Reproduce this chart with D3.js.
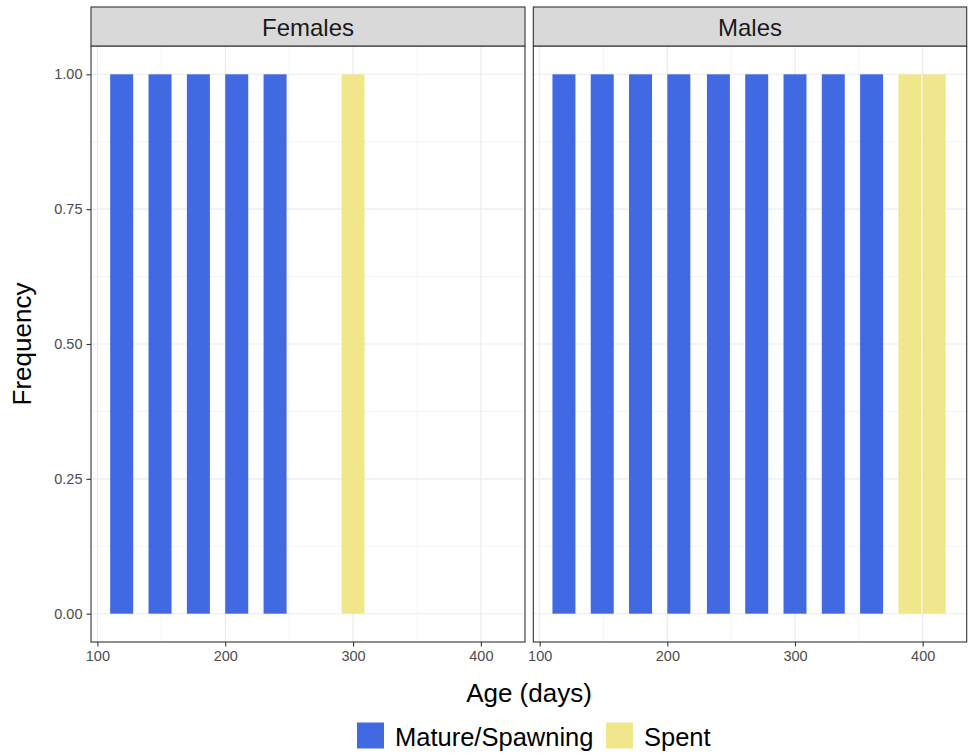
<!DOCTYPE html>
<html>
<head>
<meta charset="utf-8">
<script src="https://cdn.jsdelivr.net/npm/d3@7"></script>
<style>
  body { margin: 0; background: #fff; }
  svg { font-family: "Liberation Sans", Arial, sans-serif; }
</style>
</head>
<body>
<svg id="chart" width="969" height="755"></svg>
<script>
// ages (days) with one observation each, fill = stage
const femaleAges = [119, 149, 179, 209, 239, 300];
const femaleFreq = [1, 1, 1, 1, 1, 1];
const femaleStage = ['Mature/Spawning', 'Mature/Spawning', 'Mature/Spawning', 'Mature/Spawning', 'Mature/Spawning', 'Spent'];
const maleAges = [119, 149, 179, 209, 240, 270, 300, 330, 360, 390, 409];
const maleFreq = [1, 1, 1, 1, 1, 1, 1, 1, 1, 1, 1];
const maleStage = ['Mature/Spawning', 'Mature/Spawning', 'Mature/Spawning', 'Mature/Spawning', 'Mature/Spawning',
  'Mature/Spawning', 'Mature/Spawning', 'Mature/Spawning', 'Mature/Spawning', 'Spent', 'Spent'];
const panelNames = ['Females', 'Males'];
const stages = ['Mature/Spawning', 'Spent'];
const xTicks = [100, 200, 300, 400];
const xMinor = [150, 250, 350];
const yTicks = [0, 0.25, 0.5, 0.75, 1];
const yMinor = [0.125, 0.375, 0.625, 0.875];

const svg = d3.select('#chart');
const color = d3.scaleOrdinal().domain(stages).range(['#4169E1', '#F0E68C']);
const barWidth = 18;
const panelTop = 46, panelBottom = 642;
const panelX = [[91, 525], [533.3, 966.7]];

const y = d3.scaleLinear().domain([-0.0525, 1.0525]).range([panelBottom, panelTop]);

const panels = [
  femaleAges.map((a, i) => ({age: a, freq: femaleFreq[i], stage: femaleStage[i]})),
  maleAges.map((a, i) => ({age: a, freq: maleFreq[i], stage: maleStage[i]}))
];

panels.forEach((data, p) => {
  const x = d3.scaleLinear().domain([95, 434.5]).range(panelX[p]);
  const g = svg.append('g');
  const [x0, x1] = panelX[p];

  // grid
  g.selectAll('line.xminor').data(xMinor).enter().append('line')
    .attr('x1', d => x(d)).attr('x2', d => x(d)).attr('y1', panelTop).attr('y2', panelBottom)
    .attr('stroke', '#ebebeb').attr('stroke-width', 0.55);
  g.selectAll('line.yminor').data(yMinor).enter().append('line')
    .attr('x1', x0).attr('x2', x1).attr('y1', d => y(d)).attr('y2', d => y(d))
    .attr('stroke', '#ebebeb').attr('stroke-width', 0.55);
  g.selectAll('line.xmajor').data(xTicks).enter().append('line')
    .attr('x1', d => x(d)).attr('x2', d => x(d)).attr('y1', panelTop).attr('y2', panelBottom)
    .attr('stroke', '#ebebeb').attr('stroke-width', 1.1);
  g.selectAll('line.ymajor').data(yTicks).enter().append('line')
    .attr('x1', x0).attr('x2', x1).attr('y1', d => y(d)).attr('y2', d => y(d))
    .attr('stroke', '#ebebeb').attr('stroke-width', 1.1);

  // bars
  g.selectAll('rect.bar').data(data).enter().append('rect')
    .attr('x', d => x(d.age - barWidth / 2))
    .attr('width', d => x(d.age + barWidth / 2) - x(d.age - barWidth / 2))
    .attr('y', d => y(d.freq))
    .attr('height', d => y(0) - y(d.freq))
    .attr('fill', d => color(d.stage));

  // border
  g.append('rect').attr('x', x0).attr('y', panelTop).attr('width', x1 - x0).attr('height', panelBottom - panelTop)
    .attr('fill', 'none').attr('stroke', '#333333').attr('stroke-width', 1.1);

  // strip
  g.append('rect').attr('x', x0).attr('y', 7).attr('width', x1 - x0).attr('height', panelTop - 7)
    .attr('fill', '#d9d9d9').attr('stroke', '#333333').attr('stroke-width', 1.1);
  g.append('text').attr('x', (x0 + x1) / 2).attr('y', 35.5).attr('text-anchor', 'middle')
    .attr('font-size', 24).attr('fill', '#1a1a1a').text(panelNames[p]);

  // x axis
  const xAxis = d3.axisBottom(x).tickValues(xTicks).tickSize(4.5).tickPadding(4);
  const ax = g.append('g').attr('transform', 'translate(0,' + panelBottom + ')').call(xAxis);
  ax.select('.domain').remove();
  ax.selectAll('line').attr('stroke', '#333333').attr('stroke-width', 1.1);
  ax.selectAll('text').attr('font-size', 14.5).attr('fill', '#4d4d4d').attr('font-family', null);

  if (p === 0) {
    const yAxis = d3.axisLeft(y).tickValues(yTicks).tickFormat(d3.format('.2f')).tickSize(4.5).tickPadding(4);
    const ay = g.append('g').attr('transform', 'translate(' + x0 + ',0)').call(yAxis);
    ay.select('.domain').remove();
    ay.selectAll('line').attr('stroke', '#333333').attr('stroke-width', 1.1);
    ay.selectAll('text').attr('font-size', 14.5).attr('fill', '#4d4d4d').attr('font-family', null);
  }
});

// axis titles
svg.append('text').attr('x', 529).attr('y', 702).attr('text-anchor', 'middle')
  .attr('font-size', 26).attr('fill', '#000').text('Age (days)');
svg.append('text').attr('transform', 'translate(31,344) rotate(-90)').attr('text-anchor', 'middle')
  .attr('font-size', 26).attr('fill', '#000').text('Frequency');

// legend
const legendKeyX = [357, 606];
const legend = svg.append('g');
stages.forEach((s, i) => {
  legend.append('rect').attr('x', legendKeyX[i]).attr('y', 722.5).attr('width', 27).attr('height', 26)
    .attr('fill', color(s));
  legend.append('text').attr('x', legendKeyX[i] + 38).attr('y', 745.5).attr('font-size', 25.5)
    .attr('fill', '#000').text(s);
});
</script>
</body>
</html>
